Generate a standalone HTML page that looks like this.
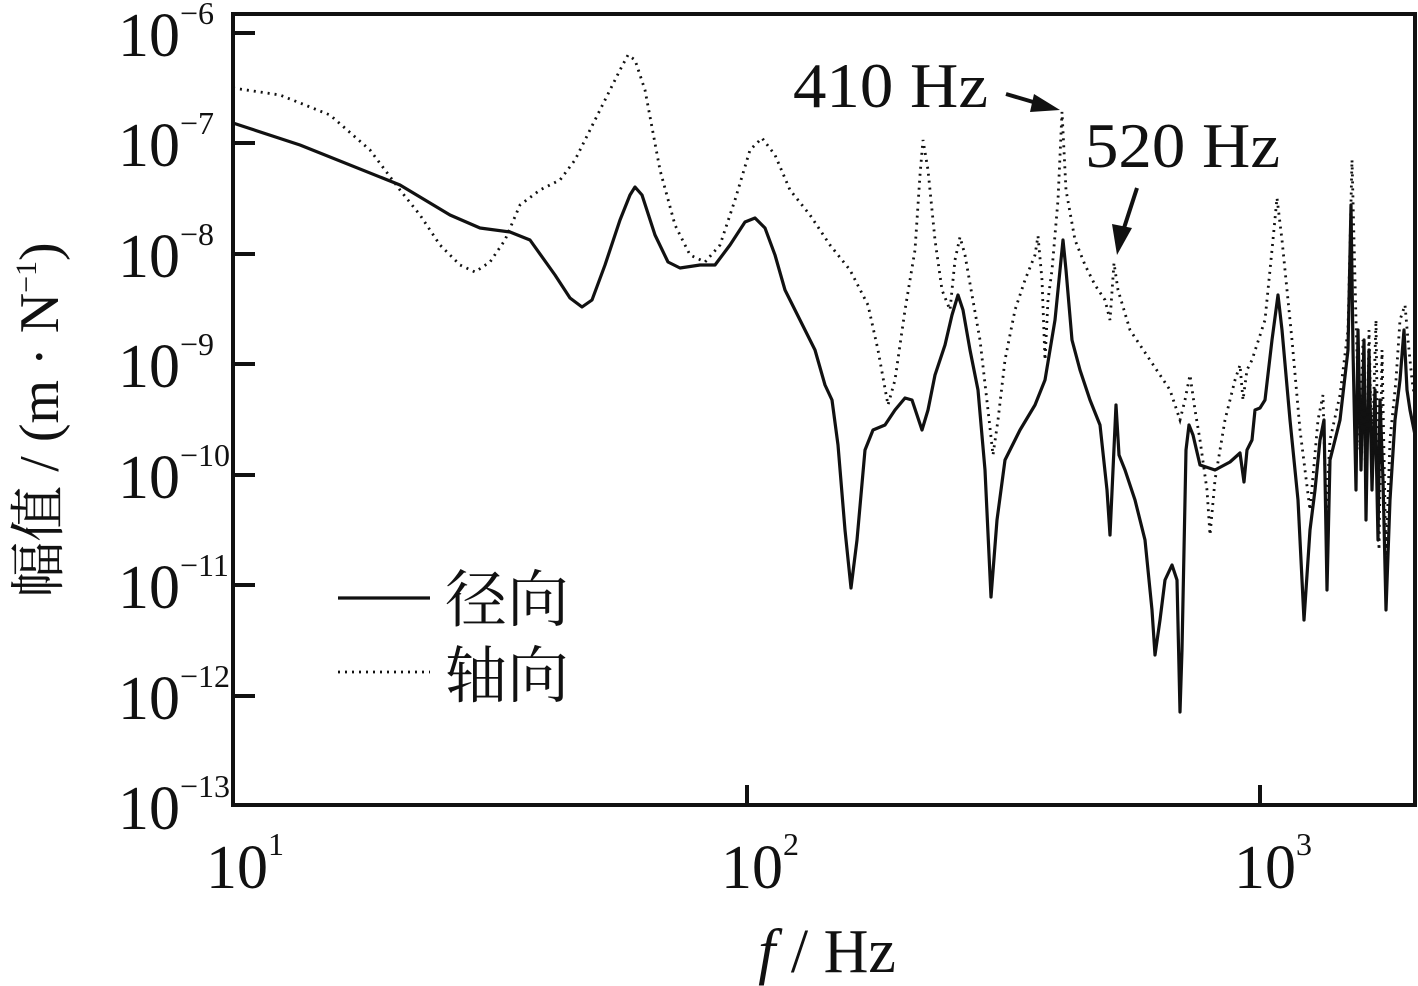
<!DOCTYPE html>
<html><head><meta charset="utf-8"><style>body{margin:0;background:#fff}svg{display:block}</style></head><body>
<svg width="1418" height="986" xmlns="http://www.w3.org/2000/svg" font-family="'Liberation Serif','Noto Serif CJK SC',serif" fill="#111">
<rect x="233" y="14" width="1182" height="791" fill="none" stroke="#111" stroke-width="4"/>
<g stroke="#111" stroke-width="4">
<line x1="233" y1="33" x2="255" y2="33"/><line x1="233" y1="143" x2="255" y2="143"/><line x1="233" y1="254" x2="255" y2="254"/><line x1="233" y1="364" x2="255" y2="364"/><line x1="233" y1="475" x2="255" y2="475"/><line x1="233" y1="585" x2="255" y2="585"/><line x1="233" y1="696" x2="255" y2="696"/>
<line x1="747" y1="805" x2="747" y2="785"/><line x1="1260" y1="805" x2="1260" y2="785"/>
</g>
<g font-size="62" text-anchor="end">
<text x="180" y="56">10</text><text x="180" y="166">10</text><text x="180" y="277">10</text><text x="180" y="387">10</text><text x="180" y="498">10</text><text x="180" y="608">10</text><text x="180" y="719">10</text><text x="180" y="829">10</text>
</g>
<g font-size="32">
<text x="180" y="24">−6</text><text x="180" y="134">−7</text><text x="180" y="245">−8</text><text x="180" y="355">−9</text><text x="180" y="466">−10</text><text x="180" y="576">−11</text><text x="180" y="687">−12</text><text x="180" y="797">−13</text>
</g>
<g font-size="62" text-anchor="middle">
<text x="237" y="888">10</text><text x="752" y="888">10</text><text x="1265" y="888">10</text>
</g>
<g font-size="32"><text x="268" y="855">1</text><text x="783" y="855">2</text><text x="1296" y="855">3</text></g>
<text x="827" y="972" font-size="62" text-anchor="middle"><tspan font-style="italic">f</tspan> / Hz</text>
<text transform="translate(58,420) rotate(-90)" font-size="56" text-anchor="middle">幅值 / (m · N<tspan font-size="30" dy="-22">−1</tspan><tspan dy="22">)</tspan></text>
<polyline fill="none" stroke="#111" stroke-width="3.2" stroke-linejoin="round" points="233,123 300,145 400,185 450,215 480,228 510,232 530,240 555,275 570,298 582,307 592,300 605,265 620,220 630,195 635,187 642,195 655,235 668,262 680,268 700,265 715,265 730,245 745,222 755,218 765,228 775,255 785,290 800,320 815,350 825,385 832,400 838,445 845,530 851,588 857,540 865,450 873,430 885,425 895,410 905,398 912,400 918,418 922,430 928,410 935,375 945,345 952,315 958,295 963,310 970,350 978,390 985,470 991,597 997,520 1005,460 1020,430 1035,405 1045,380 1055,320 1060,270 1063,240 1066,270 1072,340 1080,370 1090,400 1100,425 1107,490 1110,535 1113,470 1116,405 1119,455 1125,470 1135,500 1145,540 1152,610 1155,655 1160,620 1165,580 1172,565 1177,580 1180,712 1182,650 1186,450 1189,425 1193,435 1200,465 1215,470 1230,462 1240,453 1244,482 1247,450 1252,440 1255,410 1260,408 1265,400 1272,340 1278,295 1282,330 1290,420 1298,500 1304,620 1310,530 1315,490 1320,440 1324,420 1327,590 1330,460 1340,420 1348,350 1351,205 1353,350 1356,490 1358,330 1361,470 1364,340 1366,520 1369,350 1372,490 1375,390 1378,540 1380,400 1383,480 1386,610 1390,500 1395,420 1400,380 1404,330 1407,390 1410,410 1415,435"/>
<polyline fill="none" stroke="#111" stroke-width="2.8" stroke-dasharray="2,5" points="233,88 280,95 330,115 370,150 400,190 420,215 440,245 460,265 475,272 490,262 505,240 520,205 540,190 560,180 575,160 590,130 605,100 620,70 628,55 635,60 645,90 660,170 675,225 690,255 705,262 720,245 735,200 750,150 762,138 775,155 790,190 810,215 830,245 850,270 868,305 878,350 888,405 895,380 905,310 915,250 920,175 923,140 928,170 935,240 942,290 950,310 955,260 960,237 965,255 972,295 980,340 988,410 993,455 998,420 1005,360 1015,310 1025,280 1035,255 1038,236 1042,280 1045,360 1048,300 1052,270 1058,200 1062,112 1066,190 1075,240 1085,265 1095,285 1105,300 1110,320 1114,263 1118,290 1130,330 1150,360 1170,390 1180,420 1185,400 1190,375 1195,410 1200,440 1207,490 1210,535 1215,480 1225,420 1235,380 1240,365 1243,400 1247,370 1252,360 1265,320 1272,250 1277,198 1282,240 1292,340 1300,430 1310,510 1318,420 1323,395 1326,510 1330,440 1340,395 1348,330 1352,160 1356,320 1360,450 1363,340 1366,500 1369,330 1372,460 1376,320 1379,550 1382,350 1386,560 1390,440 1396,380 1400,320 1405,305 1408,340 1412,380 1415,400"/>
<g font-size="64"><text x="793" y="107" textLength="195" lengthAdjust="spacingAndGlyphs">410 Hz</text><text x="1085" y="167" textLength="195" lengthAdjust="spacingAndGlyphs">520 Hz</text></g>
<line x1="1006" y1="94" x2="1040" y2="104" stroke="#111" stroke-width="4"/>
<polygon points="1060,110 1034,94 1030,112"/>
<line x1="1137" y1="188" x2="1124" y2="228" stroke="#111" stroke-width="4"/>
<polygon points="1117,255 1112,224 1132,228"/>
<line x1="338" y1="598" x2="430" y2="598" stroke="#111" stroke-width="3.2"/>
<line x1="338" y1="672" x2="430" y2="672" stroke="#111" stroke-width="2.8" stroke-dasharray="2,5"/>
<g font-size="62" font-family="'Noto Serif CJK SC','Noto Sans CJK SC',serif"><text x="445" y="621">径向</text><text x="445" y="697">轴向</text></g>
</svg>
</body></html>
